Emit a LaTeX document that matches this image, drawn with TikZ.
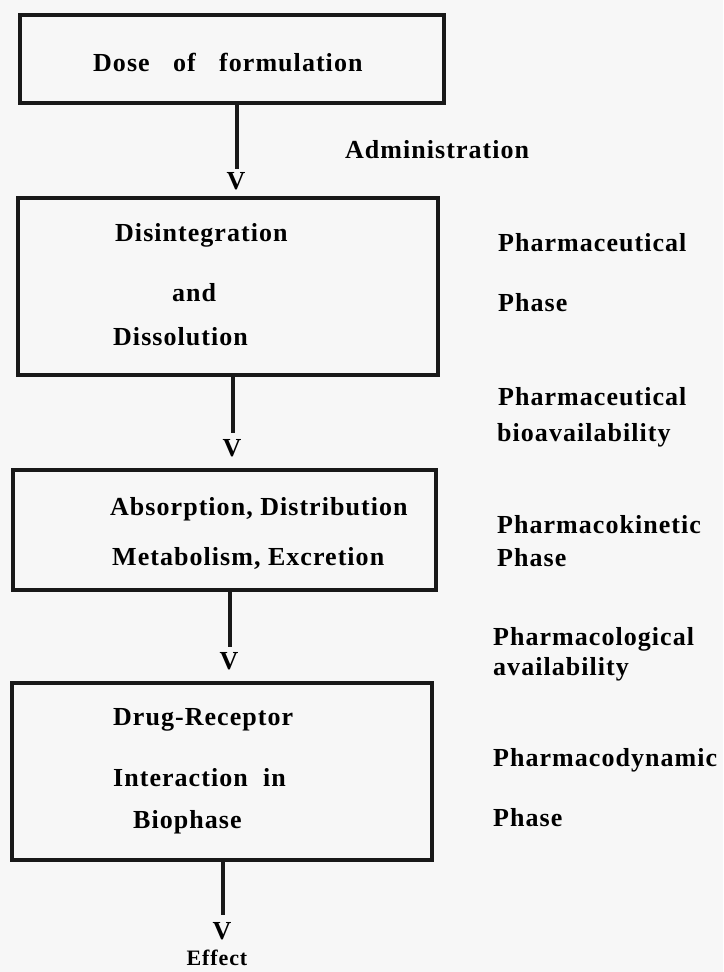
\documentclass[tikz,border=0pt]{standalone}
\usepackage{fontspec}
\setmainfont{Liberation Serif}[LetterSpace=4]
\begin{document}
\begin{tikzpicture}[x=1pt,y=-1pt,
  stagebox/.style={draw=black!90,line width=4pt,fill=none},
  lbl/.style={inner sep=0pt,anchor=west,text height=17pt,text depth=0pt,font=\fontsize{26}{30}\selectfont\bfseries},
  vhead/.style={inner sep=0pt,text height=17pt,text depth=0pt,font=\fontsize{26}{30}\selectfont\bfseries},
  efflbl/.style={inner sep=0pt,text height=14pt,text depth=0pt,font=\fontsize{22}{26}\selectfont\bfseries},
  conn/.style={line width=4pt,draw=black!90}]
\fill[black!3] (0,0) rectangle (723,972);
\useasboundingbox (0,0) rectangle (723,972);
% boxes
\node[stagebox,minimum width=424pt,minimum height=88pt] (b1) at (232,59) {};
\node[stagebox,minimum width=420pt,minimum height=177pt] (b2) at (228,286.5) {};
\node[stagebox,minimum width=423pt,minimum height=120pt] (b3) at (224.5,530) {};
\node[stagebox,minimum width=420pt,minimum height=177pt] (b4) at (222,771.5) {};
% box texts
\node[lbl] (t1) at (93,63) {Dose\hspace{0.9em}of\hspace{0.9em}formulation};
\node[lbl] (t2a) at (115,233) {Disintegration};
\node[lbl] (t2b) at (172,293) {and};
\node[lbl] (t2c) at (113,337) {Dissolution};
\node[lbl] (t3a) at (110,507) {Absorption, Distribution};
\node[lbl] (t3b) at (112,557) {Metabolism, Excretion};
\node[lbl] (t4a) at (113,717) {Drug-Receptor};
\node[lbl] (t4b) at (113,778) {Interaction\hspace{0.3em} in};
\node[lbl] (t4c) at (133,820) {Biophase};
% V heads
\node[vhead] (v1) at (236,181) {V};
\node[vhead] (v2) at (232,448) {V};
\node[vhead] (v3) at (229,661) {V};
\node[vhead] (v4) at (222,931) {V};
\node[efflbl] (eff) at (217,958) {Effect};
% connectors
\draw[conn] (b1.south -| v1) ++(1,0) -- ++(0,64);
\draw[conn] (b2.south -| v2) ++(1,0) -- ++(0,56);
\draw[conn] (b3.south -| v3) ++(1,0) -- ++(0,55);
\draw[conn] (b4.south -| v4) ++(1,0) -- ++(0,53);
% side labels
\node[lbl] (adm) at (345,150) {Administration};
\node[lbl] (p1a) at (498,243) {Pharmaceutical};
\node[lbl] (p1b) at (498,303) {Phase};
\node[lbl] (p2a) at (498,397) {Pharmaceutical};
\node[lbl] (p2b) at (497,433) {bioavailability};
\node[lbl] (p3a) at (497,525) {Pharmacokinetic};
\node[lbl] (p3b) at (497,558) {Phase};
\node[lbl] (p4a) at (493,637) {Pharmacological};
\node[lbl] (p4b) at (493,667) {availability};
\node[lbl] (p5a) at (493,758) {Pharmacodynamic};
\node[lbl] (p5b) at (493,818) {Phase};
\end{tikzpicture}
\end{document}
